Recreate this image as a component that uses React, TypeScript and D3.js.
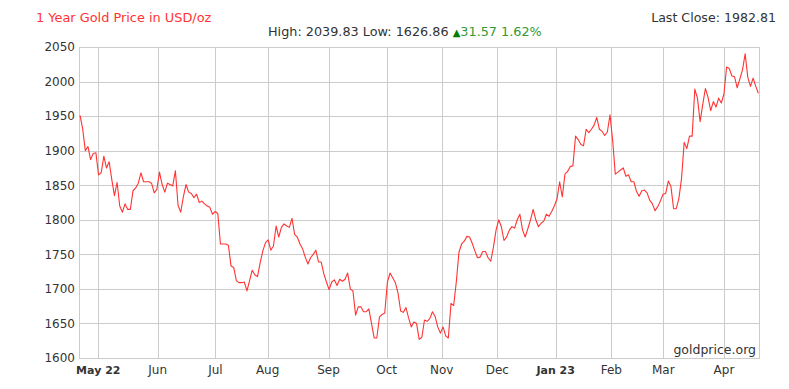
import React from "react";
import * as d3 from "d3";

const prices: number[] = [
  1951, 1932, 1900, 1906, 1887, 1896, 1897, 1865, 1868, 1892,
  1875, 1884, 1858, 1835, 1854, 1820, 1811, 1823, 1815, 1815,
  1842, 1846, 1853, 1868, 1855, 1855, 1855, 1853, 1839, 1844,
  1869, 1851, 1840, 1853, 1851, 1849, 1871, 1821, 1811, 1833,
  1851, 1840, 1838, 1832, 1837, 1825, 1827, 1823, 1820, 1818,
  1808, 1812, 1809, 1765, 1765, 1765, 1763, 1733, 1731, 1712,
  1709, 1709, 1710, 1697, 1712, 1727, 1720, 1718, 1738, 1755,
  1767, 1771, 1756, 1762, 1791, 1775, 1789, 1794, 1791, 1789,
  1802, 1779, 1775, 1765, 1758, 1746, 1736, 1745, 1750, 1756,
  1739, 1739, 1722, 1710, 1699, 1710, 1713, 1705, 1714, 1711,
  1714, 1723, 1700, 1697, 1662, 1674, 1674, 1667, 1667, 1671,
  1650, 1629, 1629, 1659, 1663, 1665, 1710, 1723, 1716, 1709,
  1694, 1668, 1666, 1673, 1658, 1645, 1652, 1650, 1627, 1630,
  1655, 1653, 1657, 1667, 1660, 1645, 1636, 1645, 1632, 1629,
  1679, 1676, 1710, 1753, 1765, 1769, 1776, 1775, 1766, 1755,
  1745, 1746, 1754, 1754, 1745, 1740, 1760, 1785, 1800, 1790,
  1770, 1775, 1785, 1790, 1788, 1800, 1808, 1785, 1775, 1787,
  1800, 1815, 1800, 1790, 1795, 1798, 1808, 1805, 1812, 1820,
  1830, 1855, 1833, 1866, 1870, 1877, 1878, 1921, 1916, 1909,
  1907, 1931, 1926, 1931, 1937, 1948, 1931, 1928, 1922, 1927,
  1952, 1915, 1866, 1869, 1872, 1875, 1863, 1865, 1855, 1855,
  1841, 1834, 1842, 1843, 1839, 1828, 1823, 1813, 1819, 1827,
  1837, 1838, 1856, 1848, 1816, 1816, 1831, 1860, 1912, 1903,
  1921, 1921, 1989, 1976, 1942, 1967, 1990, 1977, 1958, 1971,
  1963, 1976, 1969, 1982, 2021, 2019, 2008, 2007, 1991, 2004,
  2017, 2040, 2006, 1993, 2005, 1993, 1983,
];

const monthLabels: string[] = ["May 22", "Jun", "Jul", "Aug", "Sep", "Oct", "Nov", "Dec", "Jan 23", "Feb", "Mar", "Apr"];
const monthIndex: number[] = [6.9, 29.3, 51.1, 70.8, 93.8, 115.7, 136.5, 157.5, 179.5, 200.5, 220.1, 243];
const boldLabels: string[] = ["May 22", "Jan 23"];
const yTicks: number[] = [1600, 1650, 1700, 1750, 1800, 1850, 1900, 1950, 2000, 2050];

const title = "1 Year Gold Price in USD/oz";
const highLowText = "High: 2039.83 Low: 1626.86 ";
const changeText = "31.57 1.62%";
const lastCloseText = "Last Close: 1982.81";
const watermark = "goldprice.org";

const W = 789;
const H = 389;
const left = 79;
const right = 760;
const top = 47;
const bottom = 358;
const FONT = "'DejaVu Sans', Verdana, sans-serif";

export default function App() {
  const x = d3.scaleLinear().domain([0, prices.length - 1]).range([80, 758.4]);
  const y = d3.scaleLinear().domain([1600, 2050]).range([bottom, top]);
  const line = d3
    .line<number>()
    .x((_, i) => x(i))
    .y((d) => y(d))
    .curve(d3.curveLinear);

  const crisp = (v: number) => Math.round(v) + 0.5;

  return (
    <svg
      width={W}
      height={H}
      style={{ position: "absolute", left: 0, top: 0, display: "block", background: "#fff" }}
      fontFamily={FONT}
    >
      <rect x={0} y={0} width={W} height={H} fill="#fff" />
      {yTicks.map((t) => (
        <line key={"h" + t} x1={left} x2={right} y1={crisp(y(t))} y2={crisp(y(t))} stroke="#cccccc" strokeWidth={1} />
      ))}
      <line x1={left + 0.5} x2={left + 0.5} y1={top} y2={bottom + 1} stroke="#cccccc" />
      <line x1={right - 0.5} x2={right - 0.5} y1={top} y2={bottom + 1} stroke="#cccccc" />
      {monthIndex.map((m, i) => (
        <line key={"v" + i} x1={crisp(x(m))} x2={crisp(x(m))} y1={top} y2={bottom + 1} stroke="#cccccc" strokeWidth={1} />
      ))}
      {yTicks.map((t) => (
        <text key={"yl" + t} x={75} y={y(t)} dy="0.36em" textAnchor="end" fontSize={12} fill="#333">
          {t}
        </text>
      ))}
      {monthLabels.map((l, i) => (
        <text
          key={"xl" + i}
          x={x(monthIndex[i])}
          y={374}
          textAnchor="middle"
          fontSize={boldLabels.includes(l) ? 11 : 12}
          fontWeight={boldLabels.includes(l) ? "bold" : "normal"}
          fill="#333"
        >
          {l}
        </text>
      ))}
      <path d={line(prices) || ""} fill="none" stroke="#ff3333" strokeWidth={1.1} strokeLinejoin="round" />
      <text x={756} y={354} textAnchor="end" fontSize={12.5} fill="#333">
        {watermark}
      </text>
      <text x={36} y={22} fontSize={12.9} fill="#ff3333">
        {title}
      </text>
      <text x={776} y={22} textAnchor="end" fontSize={12.6} fill="#333">
        {lastCloseText}
      </text>
      <text x={268} y={36} fontSize={12.8} fill="#333">
        {highLowText}
        <tspan fill="#008000" fontSize={10}>▲</tspan>
        <tspan fill="#339933">{changeText}</tspan>
      </text>
    </svg>
  );
}
